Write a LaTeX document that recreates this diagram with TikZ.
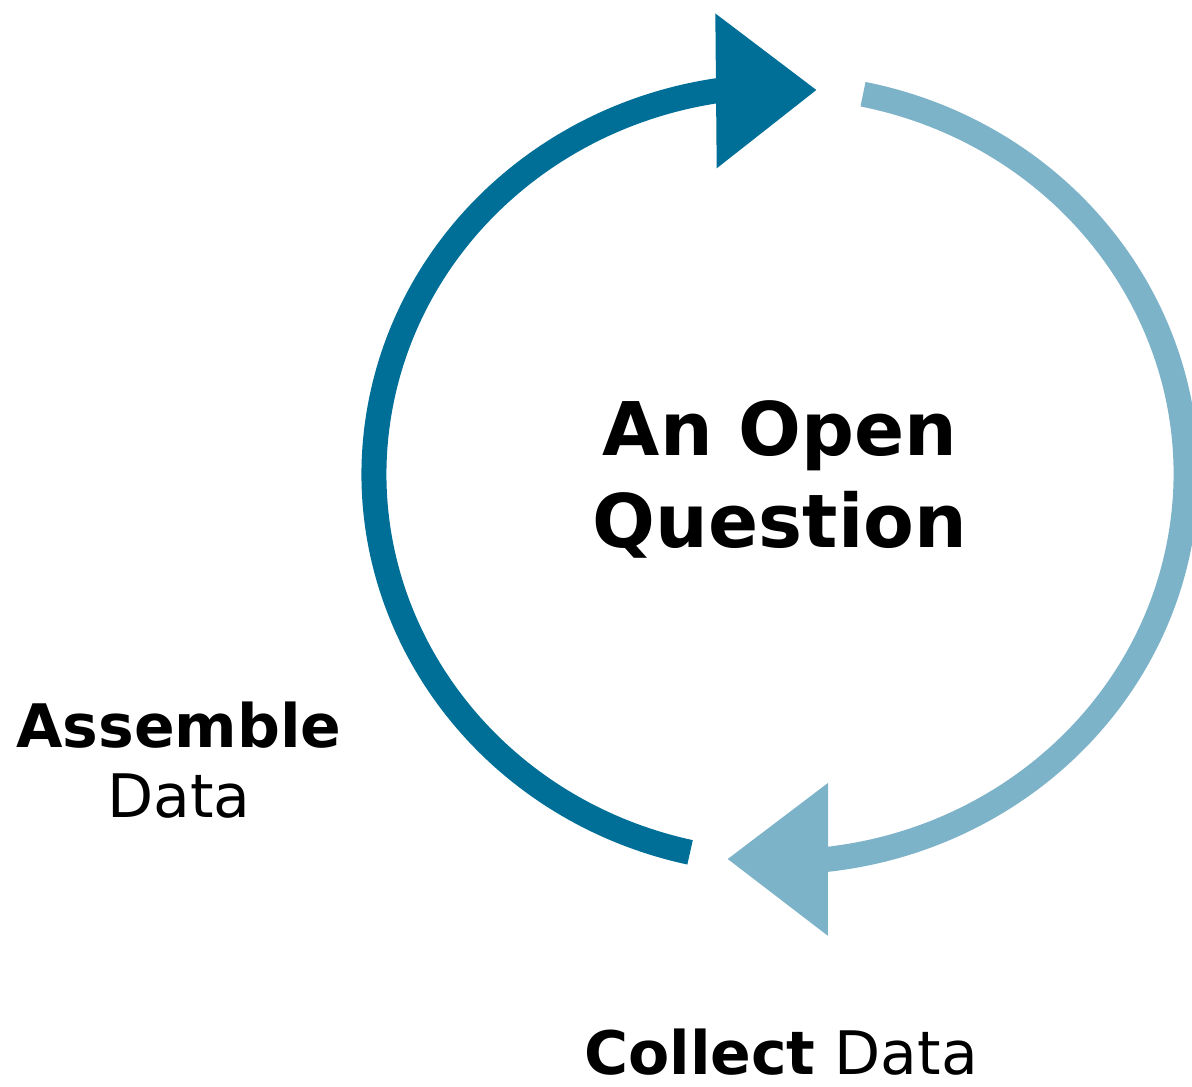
\documentclass[tikz,border=0pt]{standalone}
\usepackage{fontspec}
\setmainfont{DejaVu Sans}
\usetikzlibrary{arrows.meta,positioning}
\definecolor{cycledark}{RGB}{0,111,151}
\definecolor{cyclelight}{RGB}{125,179,201}

\begin{document}
\begin{tikzpicture}[x=0.5pt,y=0.5pt]
	\useasboundingbox (0,0) rectangle (1192,1086);
	\coordinate (centre) at (780,612);
	\coordinate (darktip) at (817,996);
	\coordinate (lighttip) at (727,227);

	\begin{scope}[line width=12.5pt]
	\draw[cycledark,-{Triangle[length=50.5pt,width=74pt]}] ([shift={(257.2:406 and 388)}]centre) arc[start angle=257.2, end angle=99.1, x radius=406, y radius=388] -- (darktip);
	\draw[cyclelight,-{Triangle[length=50.5pt,width=73pt]}] ([shift={(78.2:406 and 388)}]centre) arc[start angle=78.2, end angle=-83.2, x radius=406, y radius=388] -- (lighttip);
	\end{scope}

	\begin{scope}[every node/.style={inner sep=0pt,align=center}]
		\node[font=\fontsize{37}{46}\selectfont\bfseries,anchor=base] (title) at (780,538) {An Open\\Question};
		\node[font=\fontsize{30}{35}\selectfont,anchor=base] (assemble) at (179,268) {\textbf{Assemble}\\Data};
		\node[font=\fontsize{30}{35}\selectfont,anchor=base] (collect) at (781,12) {\textbf{Collect} Data};
	\end{scope}
\end{tikzpicture}
\end{document}
